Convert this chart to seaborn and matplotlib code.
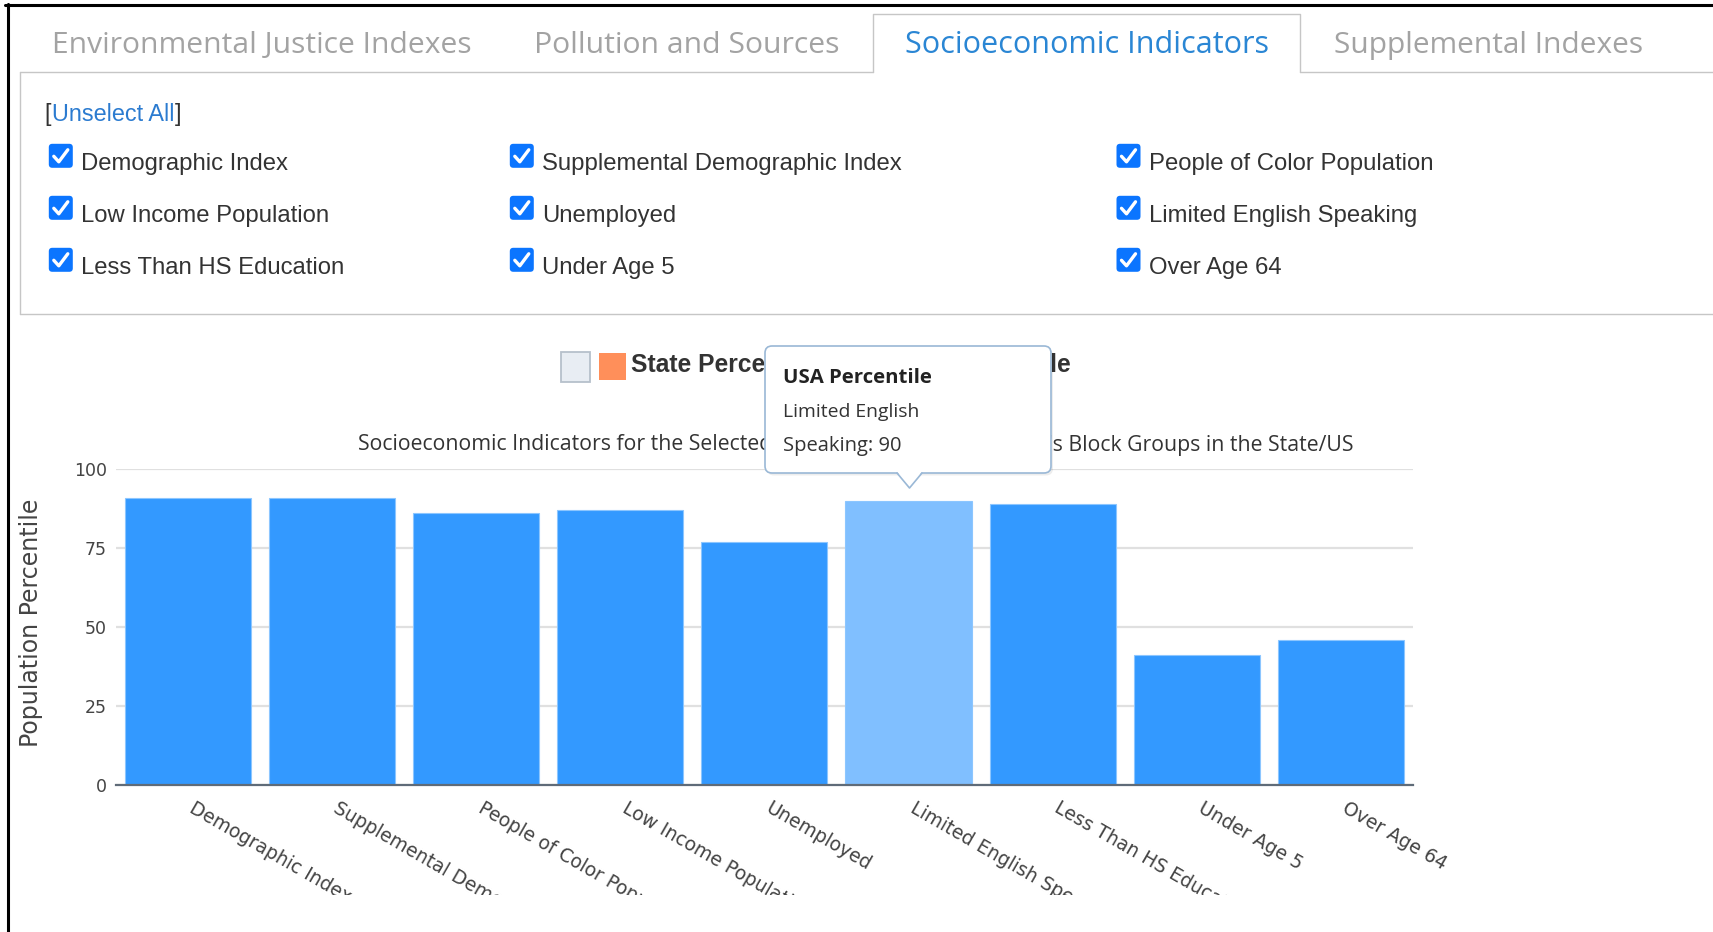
import numpy as np
import pandas as pd
import matplotlib.pyplot as plt
import matplotlib.transforms as mtrans
import seaborn as sns
from matplotlib.patches import Rectangle, FancyBboxPatch, Polygon

W, H = 1713, 932

# data
tabs = ['Environmental Justice Indexes', 'Pollution and Sources',
        'Socioeconomic Indicators', 'Supplemental Indexes']
active_tab = 'Socioeconomic Indicators'
categories = ['Demographic Index', 'Supplemental Demographic Index',
              'People of Color Population', 'Low Income Population',
              'Unemployed', 'Limited English Speaking',
              'Less Than HS Education', 'Under Age 5', 'Over Age 64']
values = [91, 91, 86, 87, 77, 90, 89, 41, 46]
highlight = 'Limited English Speaking'
legend_labels = ['State Percentile', 'USA Percentile']
tooltip_lines = ['USA Percentile', 'Limited English', 'Speaking: 90']
title_left = 'Socioeconomic Indicators for the Selected'
title_right = "'s Block Groups in the State/US"

sns.set_style('white')
plt.rcParams['font.family'] = ['DejaVu Sans']

fig = plt.figure(figsize=(W / 100, H / 100), dpi=100)
fig.patch.set_facecolor('white')
r = fig.canvas.get_renderer()


def fit(t, target, along='w'):
    bb = t.get_window_extent(r)
    cur = bb.width if along == 'w' else bb.height
    t.set_fontsize(t.get_fontsize() * target / cur)
    return t


# ---- bar chart ----
ax = fig.add_axes([115.7 / W, 1 - 784.5 / H, 1297.3 / W, 315.2 / H])
df = pd.DataFrame({'indicator': categories, 'percentile': values})
bar_colors = ['#80bfff' if c == highlight else '#3399ff' for c in categories]
sns.barplot(data=df, x='indicator', y='percentile', hue='indicator',
            palette=bar_colors, width=0.876, legend=False, saturation=1,
            edgecolor='#8cc6ff', linewidth=0.8, ax=ax)
ax.set_xlim(-0.5, 8.5)
ax.set_ylim(0, 100)
ax.set_yticks([0, 25, 50, 75, 100])
ax.yaxis.grid(True, color='#e0e0e0', lw=1.6)
ax.set_axisbelow(True)
for s in ['top', 'right', 'left']:
    ax.spines[s].set_visible(False)
ax.spines['bottom'].set_color('#5f6b78')
ax.spines['bottom'].set_linewidth(1.6)
ax.tick_params(axis='both', length=0, labelcolor='#444444')
ax.tick_params(axis='y', pad=6.5, labelsize=12.5)
ax.tick_params(axis='x', pad=10, labelsize=13.5)
ax.set_xticks(range(len(categories)))
ax.set_xticklabels(categories, rotation=-30, ha='left', va='top',
                   rotation_mode='anchor')
shift = mtrans.ScaledTranslation(8 / 100, 0, fig.dpi_scale_trans)
for lab in ax.get_xticklabels():
    lab.set_transform(lab.get_transform() + shift)
ax.set_xlabel('')
ax.set_ylabel('Population Percentile', fontsize=14.5, color='#444444')
fit(ax.yaxis.label, 249, along='h')
ax.yaxis.set_label_coords((43 - 115.7) / 1297.3, (784.5 - 622.5) / 315.2)

# ---- page / UI overlay in pixel coordinates ----
ui = fig.add_axes([0, 0, 1, 1], zorder=5)
ui.set_xlim(0, W)
ui.set_ylim(H, 0)
ui.axis('off')

border = '#c6c6c6'
ui.plot([20, 20], [72, 313.5], color=border, lw=1)
ui.plot([20, 873], [72, 72], color=border, lw=1)
ui.plot([1300, W], [72, 72], color=border, lw=1)
ui.plot([873, 873, 1300, 1300], [72, 14, 14, 72], color=border, lw=1)
ui.plot([20, W], [313.5, 313.5], color=border, lw=1)

# tabs
tab_x = [51.7, 534, 905, 1334]
tab_w = [419, 305, 361.6, 308.5]
for name, x, w in zip(tabs, tab_x, tab_w):
    col = '#2a86d4' if name == active_tab else '#a3a3a3'
    t = ui.text(x, 53, name, fontsize=20, color=col, family='Open Sans',
                va='baseline', ha='left')
    fit(t, w)

# [Unselect All]
link = ui.text(51.7, 121, 'Unselect All', fontsize=16, color='#2b7bd0',
               family='Liberation Sans', va='baseline', ha='left')
fit(link, 123)
fs = link.get_fontsize()
ui.text(51.2, 121, '[', fontsize=fs, color='#333333', family='Liberation Sans',
        va='baseline', ha='right')
ui.text(175.2, 121, ']', fontsize=fs, color='#333333', family='Liberation Sans',
        va='baseline', ha='left')

# checkboxes
col_box = [48.8, 509.8, 1116.5]
row_top = [143.8, 195.8, 247.8]
row_base = [170, 221.7, 274]
probe = ui.text(0, 0, 'Supplemental Demographic Index', fontsize=16,
                family='Liberation Sans')
fit(probe, 360)
cb_fs = probe.get_fontsize()
probe.remove()
for i, name in enumerate(categories):
    row, col = divmod(i, 3)
    x, y = col_box[col], row_top[row]
    ui.add_patch(FancyBboxPatch((x, y), 24, 24,
                                boxstyle='round,pad=0,rounding_size=3.5',
                                fc='#0b75ff', ec='none'))
    ui.plot([x + 5, x + 10, x + 19], [y + 12.5, y + 18, y + 6], color='white',
            lw=2.4, solid_capstyle='round', solid_joinstyle='round')
    ui.text(x + 32.5, row_base[row], name, fontsize=cb_fs, color='#333333',
            family='Liberation Sans', va='baseline', ha='left')

# legend
ui.add_patch(Rectangle((561, 352), 29, 30, fc='#e8edf3', ec='#b6c0cb', lw=1.3))
ui.add_patch(Rectangle((599, 353), 27, 27, fc='#ff8f5a', ec='none'))
lt = ui.text(631, 371.5, 'State Perce', fontsize=16, color='#333333',
             family='Liberation Sans', weight='bold', va='baseline', ha='left')
fit(lt, 134)
lt.set_text(legend_labels[0])
ut = ui.text(1071, 371.5, legend_labels[1], fontsize=lt.get_fontsize(),
             color='#333333', family='Liberation Sans', weight='bold',
             va='baseline', ha='right')
uw = ut.get_window_extent(r).width
ui.add_patch(Rectangle((1071 - uw - 32, 353), 27, 27, fc='#3399ff', ec='none'))

# chart title (middle part hidden by the tooltip)
tl = ui.text(358, 450.5, title_left, fontsize=13, color='#333333',
             family='Open Sans', va='baseline', ha='left')
fit(tl, 412)
tr = ui.text(1353, 450.5, title_right, fontsize=tl.get_fontsize(),
             color='#333333', family='Open Sans', va='baseline', ha='right')

# tooltip on top of everything in the chart
ui.add_patch(FancyBboxPatch((767, 348.5), 286, 127,
                            boxstyle='round,pad=0,rounding_size=7',
                            fc='#000000', ec='none', alpha=0.07, zorder=10))
ui.add_patch(FancyBboxPatch((765, 346), 286, 127,
                            boxstyle='round,pad=0,rounding_size=7',
                            fc='white', ec='#9ab8d6', lw=1.2, zorder=11))
ui.add_patch(Polygon([(897, 471.5), (909.5, 487.5), (922, 471.5)],
                     closed=True, fc='white', ec='none', zorder=12))
ui.plot([897, 909.5, 922], [473, 488, 473], color='#9ab8d6', lw=1.2, zorder=12)
tt_base = [382.7, 417, 450.7]
tt_w = [148, 135.6, 118]
tip = ui.text(783, tt_base[0], tooltip_lines[0], fontsize=13, color='#222222',
              family='Open Sans', weight='bold', va='baseline', ha='left',
              zorder=13)
fit(tip, tt_w[0])
for line, yb, w in zip(tooltip_lines[1:], tt_base[1:], tt_w[1:]):
    t = ui.text(783, yb, line, fontsize=13, color='#333333',
                family='Open Sans', va='baseline', ha='left', zorder=13)
    fit(t, w)

# the x labels are clipped by the chart container
ui.add_patch(Rectangle((10, 895), W, H - 895, fc='white', ec='none', zorder=20))

# black screenshot frame
ui.plot([7.5, 7.5], [4, H], color='black', lw=2.2, zorder=21)
ui.plot([5, W], [5, 5], color='black', lw=2.2, zorder=21)

fig.savefig('out.png', dpi=100)
